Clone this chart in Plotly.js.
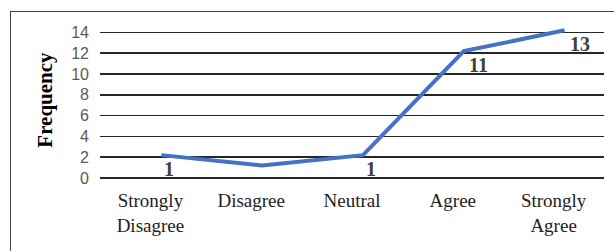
<!DOCTYPE html>
<html>
<head>
<meta charset="utf-8">
<script src="https://cdn.plot.ly/plotly-3.0.1.min.js"></script>
<style>
html,body{margin:0;padding:0;background:#fff;}
#wrap{position:relative;width:614px;height:251px;overflow:hidden;}
#chart{position:absolute;left:0;top:0;width:614px;height:251px;}
#frame{position:absolute;left:10px;top:11px;width:700px;height:300px;border:1px solid #404040;pointer-events:none;}
</style>
</head>
<body>
<div id="wrap"><div id="chart"></div><div id="frame"></div></div>
<script>
const categories = ["Strongly<br>Disagree", "Disagree", "Neutral", "Agree", "Strongly<br>Agree"];
const frequency = [2.2, 1.2, 2.2, 12.2, 14.2];
const dataLabels = ["1", "", "1", "11", "13"];
const yTicks = [0, 2, 4, 6, 8, 10, 12, 14];

const annotations = [];
categories.forEach((c, i) => {
  if (dataLabels[i] === "") return;
  annotations.push({
    xref: 'x2', yref: 'y', x: c, y: frequency[i], text: dataLabels[i],
    showarrow: false, xanchor: 'left', yanchor: 'middle',
    xshift: (i >= 3 ? 3 : 1), yshift: -14,
    font: {family: 'Liberation Serif', size: 20, color: '#404040', weight: 'bold'}
  });
});

const traces = [
  {x: categories, y: frequency.map(() => null), xaxis: 'x', yaxis: 'y', type: 'scatter', mode: 'lines', showlegend: false, hoverinfo: 'skip'},
  {x: categories, y: frequency, xaxis: 'x2', yaxis: 'y', type: 'scatter', mode: 'lines',
   line: {color: '#4472C4', width: 4}, showlegend: false}
];

const layout = {
  width: 614, height: 251,
  margin: {l: 100, r: 10, t: 22, b: 73},
  paper_bgcolor: '#ffffff', plot_bgcolor: '#ffffff',
  showlegend: false,
  xaxis: {
    type: 'category', range: [-0.5, 4.5], showgrid: false, zeroline: false, showline: false,
    ticks: '', tickfont: {family: 'Liberation Serif', size: 19, color: '#222222'},
    ticklabelstandoff: 9, fixedrange: true
  },
  xaxis2: {
    type: 'category', overlaying: 'x', range: [-0.609, 4.391], visible: false, fixedrange: true
  },
  yaxis: {
    range: [0, 15], tickvals: yTicks, ticktext: yTicks.map(String),
    showgrid: true, gridcolor: '#262626', gridwidth: 1.5,
    zeroline: true, zerolinecolor: '#262626', zerolinewidth: 1.5,
    showline: false, ticks: '', ticklabelstandoff: 10,
    tickfont: {family: 'Liberation Sans', size: 16, color: '#595959'},
    title: {text: '<b>Frequency</b>', standoff: 12, font: {family: 'Liberation Serif', size: 21, color: '#000000'}},
    fixedrange: true
  },
  annotations: annotations
};

Plotly.newPlot('chart', traces, layout, {displayModeBar: false, staticPlot: true});
</script>
</body>
</html>
